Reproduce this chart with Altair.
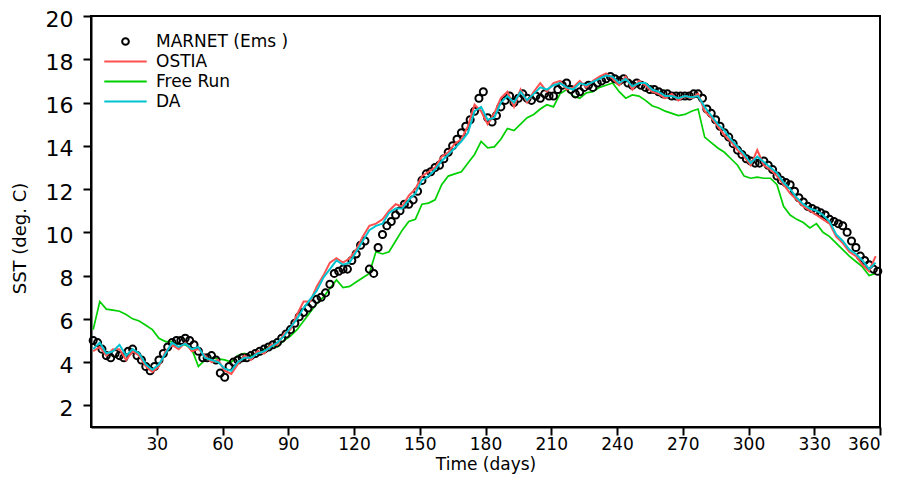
import altair as alt
import pandas as pd

# ---- data ----
line_days = list(range(1, 359, 3))   # every 3rd day, 120 points
obs_days = list(range(1, 360, 2))    # every 2nd day, 180 points

da = [
    4.6, 4.9, 4.4, 4.5, 4.8, 4.3, 4.6, 4.4, 3.9, 3.65,
    3.9, 4.4, 4.9, 4.7, 4.85, 4.6, 4.7, 4.2, 4.1, 4.0,
    3.7, 3.6, 4.0, 4.2, 4.2, 4.4, 4.5, 4.7, 4.9, 5.2,
    5.6, 6.0, 6.5, 6.9, 7.3, 7.9, 8.3, 8.7, 8.5, 8.6,
    9.1, 9.6, 10.1, 10.3, 10.4, 10.9, 11.1, 11.1, 11.5, 11.8,
    12.4, 12.6, 12.9, 13.3, 13.6, 13.9, 14.2, 14.6, 15.6, 15.8,
    15.2, 15.3, 16.0, 16.3, 16.0, 16.5, 16.1, 16.4, 16.7, 16.6,
    16.8, 16.9, 16.7, 16.6, 16.9, 16.8, 16.95, 17.1, 17.25, 17.2,
    16.9, 17.1, 16.75, 16.9, 16.9, 16.6, 16.5, 16.3, 16.3, 16.2,
    16.3, 16.25, 16.3, 15.8, 15.4, 15.0, 14.7, 14.3, 13.95, 13.6,
    13.2, 13.5, 13.25, 13.0, 12.75, 12.3, 12.0, 11.6, 11.3, 11.1,
    11.0, 10.8, 10.5, 9.9, 9.6, 9.2, 9.0, 8.7, 8.3, 8.6,
]

ostia = [
    4.5, 4.7, 4.3, 4.6, 4.6, 4.1, 4.5, 4.3, 3.8, 3.55,
    3.8, 4.5, 4.8, 4.6, 4.9, 4.5, 4.6, 4.3, 4.0, 4.1,
    3.6, 3.45, 3.9, 4.3, 4.1, 4.5, 4.4, 4.8, 4.8, 5.3,
    5.5, 6.2, 6.8, 6.8, 7.5, 8.0, 8.6, 8.8, 8.6, 8.8,
    9.2, 9.8, 10.3, 10.4, 10.6, 11.0, 11.3, 11.2, 11.7, 12.0,
    12.6, 12.8, 13.0, 13.5, 13.7, 14.1, 14.3, 14.9, 15.9, 15.6,
    15.0, 15.5, 16.2, 16.5, 15.8, 16.6, 16.0, 16.5, 16.9, 16.5,
    16.9, 17.0, 16.6, 16.7, 17.0, 16.7, 17.0, 17.2, 17.35, 17.1,
    16.8, 17.2, 16.6, 17.0, 16.8, 16.5, 16.4, 16.2, 16.4, 16.1,
    16.3, 16.2, 16.4, 15.6, 15.3, 14.9, 14.5, 14.2, 13.8, 13.5,
    13.1, 13.8, 13.1, 12.9, 12.6, 12.2, 11.8, 11.5, 11.2, 11.0,
    10.8, 10.6, 10.4, 9.8, 9.5, 9.1, 8.9, 8.5, 8.2, 8.9,
]

free_run = [
    5.5, 6.8, 6.45, 6.4, 6.35, 6.2, 6.0, 5.9, 5.7, 5.5,
    5.1, 4.95, 4.95, 4.85, 4.8, 4.6, 3.8, 4.1, 4.2, 4.15,
    4.1, 4.0, 4.3, 4.4, 4.3, 4.4, 4.6, 4.8, 4.7, 5.0,
    5.2, 5.5, 5.9, 6.3, 6.7, 7.0, 7.4, 7.8, 7.45, 7.5,
    7.7, 7.9, 8.1, 9.1, 9.0, 9.1, 9.6, 10.1, 10.5, 10.6,
    11.3, 11.35, 11.5, 12.2, 12.6, 12.7, 12.8, 13.2, 13.6, 14.2,
    13.9, 13.95, 14.3, 14.8, 14.7, 15.0, 15.3, 15.45, 15.7, 15.9,
    15.8, 16.4, 16.6, 16.3, 16.2, 16.45, 16.5, 16.7, 16.8, 16.9,
    16.5, 16.2, 16.35, 16.3, 16.1, 15.85, 15.75, 15.6, 15.5, 15.4,
    15.45, 15.6, 15.7, 14.4, 14.15, 13.9, 13.7, 13.4, 13.1, 12.6,
    12.5, 12.55, 12.5, 12.5, 12.2, 11.2, 10.8, 10.6, 10.45, 10.2,
    10.4, 10.0, 9.8, 9.5, 9.2, 8.9, 8.65, 8.4, 8.0, 8.1,
]

marnet = [
    5.0, 4.9, 4.6, 4.3, 4.2, 4.4, 4.3, 4.2, 4.5, 4.6,
    4.3, 4.1, 3.8, 3.6, 3.8, 4.1, 4.4, 4.7, 4.9, 5.0,
    5.0, 5.1, 5.0, 4.8, 4.5, 4.2, 4.2, 4.3, 4.1, 3.5,
    3.3, 3.8, 4.0, 4.1, 4.2, 4.2, 4.3, 4.4, 4.5, 4.6,
    4.7, 4.8, 4.9, 5.1, 5.3, 5.5, 5.8, 6.1, 6.3, 6.5,
    6.7, 6.9, 7.0, 7.2, 7.6, 8.1, 8.2, 8.3, 8.3, 8.7,
    9.0, 9.4, 9.6, 8.3, 8.1, 9.3, 9.9, 10.3, 10.5, 10.8,
    11.0, 11.3, 11.3, 11.5, 11.9, 12.4, 12.7, 12.8, 13.0, 13.1,
    13.4, 13.7, 14.0, 14.3, 14.6, 14.9, 15.2, 15.6, 16.2, 16.5,
    15.3, 15.1, 15.4, 15.8, 16.1, 16.3, 16.0, 16.2, 16.4, 16.2,
    16.1, 16.3, 16.2, 16.4, 16.3, 16.3, 16.6, 16.8, 16.9, 16.6,
    16.4, 16.5, 16.7, 16.8, 16.7, 16.9, 17.0, 17.1, 17.2, 17.1,
    17.0, 17.1, 16.9, 16.8, 16.9, 16.8, 16.7, 16.6, 16.6, 16.5,
    16.4, 16.4, 16.3, 16.3, 16.3, 16.3, 16.3, 16.4, 16.4, 16.2,
    15.7, 15.5, 15.2, 14.9, 14.6, 14.4, 14.1, 13.8, 13.6, 13.4,
    13.3, 13.2, 13.2, 13.3, 13.1, 12.9, 12.6, 12.4, 12.3, 12.2,
    11.9, 11.6, 11.4, 11.2, 11.1, 11.0, 10.9, 10.8, 10.6, 10.5,
    10.4, 10.3, 10.0, 9.6, 9.3, 8.9, 8.7, 8.5, 8.3, 8.2,
]

series_names = ["MARNET (Ems )", "OSTIA", "Free Run", "DA"]
series_colors = ["#000000", "#ff5050", "#00d000", "#00c4d0"]
x_ticks = [30, 60, 90, 120, 150, 180, 210, 240, 270, 300, 330, 360]
y_ticks = [2, 4, 6, 8, 10, 12, 14, 16, 18, 20]

# ---- build tables ----
frames = [pd.DataFrame({"day": obs_days, "sst": marnet, "series": series_names[0]})]
for name, vals in [("OSTIA", ostia), ("Free Run", free_run), ("DA", da)]:
    frames.append(pd.DataFrame({"day": line_days, "sst": vals, "series": name}))
df = pd.concat(frames, ignore_index=True)

FONT = "DejaVu Sans"

x_enc = alt.X("day:Q", scale=alt.Scale(domain=[0, 360], nice=False, zero=False),
              axis=alt.Axis(values=x_ticks, title="Time (days)", titleFontSize=17,
                            titleFontWeight="normal", labelFontSize=17, titlePadding=4,
                            tickSize=8, labelPadding=1, grid=False))
y_enc = alt.Y("sst:Q", scale=alt.Scale(domain=[1, 20], nice=False, zero=False),
              axis=alt.Axis(values=y_ticks, title="SST (deg. C)", titleFontSize=18,
                            titleFontWeight="normal", labelFontSize=22, labelOffset=3,
                            titleX=-66, titleY=222, titleAngle=270,
                            titleBaseline="alphabetic", titleAlign="center",
                            tickSize=8, labelPadding=10, grid=False))

is_obs = "datum.value === 'MARNET (Ems )'"
legend = alt.Legend(
    title=None, orient="none", legendX=26, legendY=17,
    symbolType=alt.ExprRef(expr=is_obs + " ? 'circle' : 'M-3,0H3'"),
    symbolSize=alt.ExprRef(expr=is_obs + " ? 45 : 200"),
    symbolStrokeWidth=2, symbolFillColor="transparent",
    labelFontSize=17, labelFont=FONT, labelOffset=22, rowPadding=2, padding=0,
)
color_enc = alt.Color("series:N",
                      scale=alt.Scale(domain=series_names, range=series_colors),
                      legend=legend)

base = alt.Chart(df)

def line_layer(name, width):
    return base.transform_filter(alt.datum.series == name).mark_line(strokeWidth=width).encode(
        x=x_enc, y=y_enc, color=color_enc)

free_layer = line_layer("Free Run", 1.7)
obs_layer = base.transform_filter(alt.datum.series == series_names[0]).mark_point(
    shape="circle", filled=False, size=50, strokeWidth=2, opacity=1).encode(
    x=x_enc, y=y_enc, color=color_enc)
ostia_layer = line_layer("OSTIA", 2)
da_layer = line_layer("DA", 2)

chart = alt.layer(free_layer, obs_layer, ostia_layer, da_layer).properties(
    width=789, height=411,
    autosize=alt.AutoSizeParams(type="none"),
    padding={"left": 83, "top": 8, "right": 12, "bottom": 48},
    background="white",
).configure_view(
    stroke="black", strokeWidth=2
).configure_axis(
    domainColor="black", domainWidth=2, tickColor="black", tickWidth=2,
    labelColor="black", titleColor="black", labelFont=FONT, titleFont=FONT,
)

chart.save("out.html", embed_options={"renderer": "svg", "actions": False})
